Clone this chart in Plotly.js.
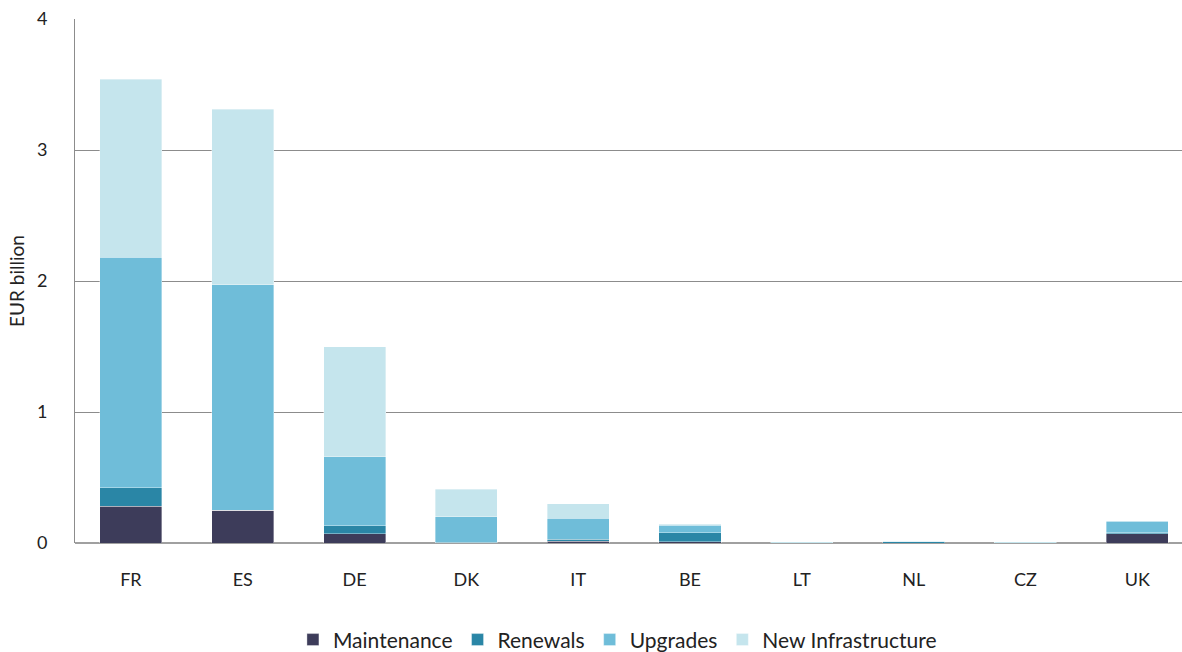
<!DOCTYPE html>
<html>
<head>
<meta charset="utf-8">
<script src="https://cdn.plot.ly/plotly-3.0.1.min.js"></script>
<style>html,body{margin:0;padding:0;background:#fff;}#chart{width:1182px;height:652px;}</style>
</head>
<body>
<div id="chart"></div>
<script>
const countries = ["FR", "ES", "DE", "DK", "IT", "BE", "LT", "NL", "CZ", "UK"];
const maintenance = [0.28, 0.25, 0.07, 0.0, 0.015, 0.01, 0.0, 0.0, 0.0, 0.07];
const renewals = [0.14, 0.0, 0.06, 0.005, 0.015, 0.07, 0.0, 0.008, 0.0, 0.01];
const upgrades = [1.76, 1.72, 0.53, 0.195, 0.16, 0.055, 0.0, 0.004, 0.0, 0.085];
const newInfrastructure = [1.36, 1.34, 0.84, 0.21, 0.11, 0.01, 0.01, 0.0, 0.01, 0.005];

const seriesNames = ["Maintenance", "Renewals", "Upgrades", "New Infrastructure"];
const seriesValues = [maintenance, renewals, upgrades, newInfrastructure];
const seriesColors = ["#3d3c5a", "#2a86a6", "#6fbdd9", "#c5e5ed"];

const traces = seriesNames.map((name, i) => ({
  type: "bar",
  name: name,
  x: countries,
  y: seriesValues[i],
  marker: { color: seriesColors[i], line: { color: "rgba(255,255,255,0.6)", width: 0.6 } },
  hoverinfo: "x+y+name"
}));

const font = "Lato, 'Open Sans', 'Liberation Sans', sans-serif";

const layout = {
  width: 1182,
  height: 652,
  margin: { l: 75, r: 0, t: 19, b: 109, autoexpand: false },
  barmode: "stack",
  bargap: 0.445,
  paper_bgcolor: "#ffffff",
  plot_bgcolor: "#ffffff",
  font: { family: font, size: 18, color: "#222" },
  xaxis: {
    type: "category",
    range: [-0.5, 9.4],
    showline: false,
    showgrid: false,
    ticks: "",
    automargin: false,
    tickfont: { family: font, size: 18, color: "#222" },
    ticklabelstandoff: 24
  },
  yaxis: {
    range: [0, 4],
    dtick: 1,
    tick0: 0,
    automargin: false,
    showgrid: true,
    gridcolor: "#8c8c8c",
    gridwidth: 1,
    zeroline: true,
    zerolinecolor: "#a0a0a0",
    zerolinewidth: 2,
    showline: true,
    linecolor: "#8c8c8c",
    linewidth: 1,
    ticks: "",
    tickfont: { family: font, size: 18, color: "#222" },
    ticklabelstandoff: 23,
    title: { text: "EUR billion", font: { family: font, size: 19, color: "#222" }, standoff: 7 }
  },
  showlegend: true,
  legend: {
    orientation: "h",
    x: 0.49,
    xanchor: "center",
    y: -0.185,
    yanchor: "middle",
    font: { family: font, size: 21, color: "#222" },
    traceorder: "normal",
    itemwidth: 30
  }
};

Plotly.newPlot("chart", traces, layout, { displayModeBar: false, staticPlot: true });
</script>
</body>
</html>
